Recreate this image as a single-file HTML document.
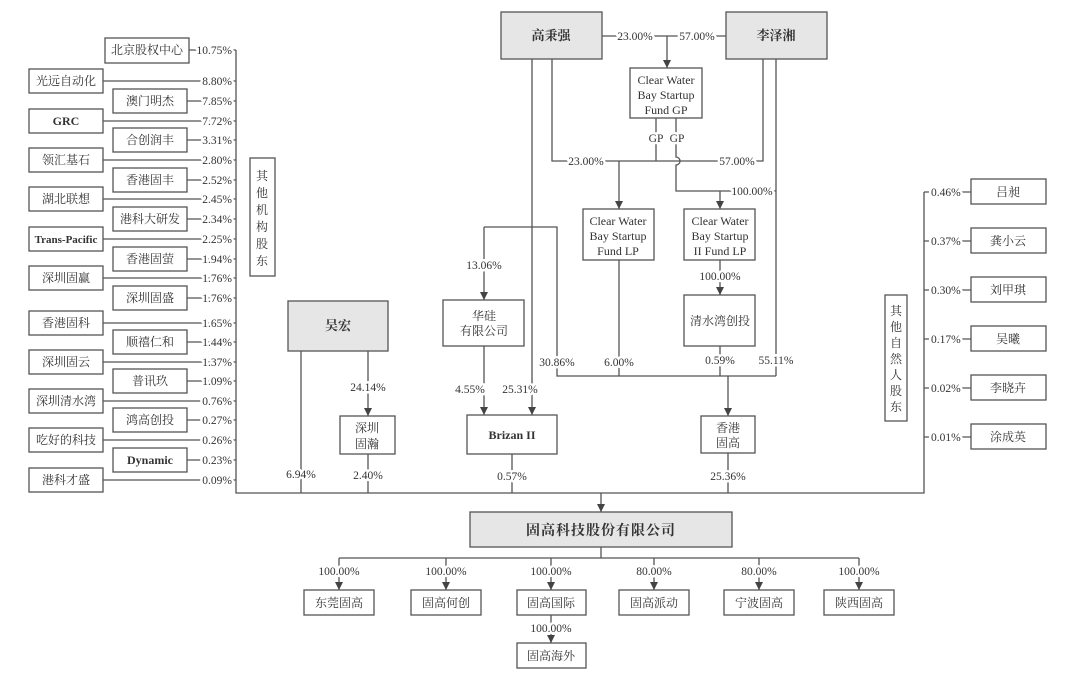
<!DOCTYPE html>
<html><head><meta charset="utf-8"><style>
html,body{margin:0;padding:0;background:#fff;}
svg{display:block;}
text{font-family:"Liberation Serif","Noto Serif CJK SC",serif;fill:#333;}
.p{font-size:11.5px;paint-order:stroke;stroke:#fff;stroke-width:5px;stroke-linejoin:round;}
.n{font-size:12px;}
.b{font-weight:bold;}
</style></head><body>
<svg width="1080" height="691" viewBox="0 0 1080 691" xmlns="http://www.w3.org/2000/svg">
<defs><marker id="a" markerWidth="9" markerHeight="8" refX="8" refY="4" orient="auto" markerUnits="userSpaceOnUse"><path d="M0,0 L8,4 L0,8 Z" fill="#444"/></marker></defs>
<g stroke="#555" stroke-width="1.3" fill="none">
<path d="M236,50 V493 H924 V192"/>
<path d="M189,50 H236 M103,81 H236 M187,101 H236 M103,121 H236 M187,140 H236 M103,160 H236 M187,180 H236 M103,199 H236 M187,219 H236 M103,239 H236 M187,259 H236 M103,278 H236 M187,298 H236 M103,323 H236 M187,342 H236 M103,362 H236 M187,381 H236 M103,401 H236 M187,420 H236 M103,440 H236 M187,460 H236 M103,480 H236"/>
<path d="M924,192 H971 M924,241 H971 M924,290 H971 M924,339 H971 M924,388 H971 M924,437 H971"/>
<path d="M602,36 H726"/>
<path d="M667,36 V68" marker-end="url(#a)"/>
<path d="M552,59 V161 H763 V59"/>
<path d="M656,118 V161"/>
<path d="M676,118 V157 A4,4 0 0 1 676,165 V191 H776"/>
<path d="M619,161 V209" marker-end="url(#a)"/>
<path d="M720,191 V209" marker-end="url(#a)"/>
<path d="M776,59 V376"/>
<path d="M532,59 V415" marker-end="url(#a)"/>
<path d="M484,227 H557 V376 H776"/>
<path d="M484,227 V300" marker-end="url(#a)"/>
<path d="M619,260 V376"/>
<path d="M720,260 V295" marker-end="url(#a)"/>
<path d="M720,346 V376"/>
<path d="M728,376 V416" marker-end="url(#a)"/>
<path d="M484,346 V415" marker-end="url(#a)"/>
<path d="M301,351 V493"/>
<path d="M368,351 V416" marker-end="url(#a)"/>
<path d="M368,454 V493"/>
<path d="M512,454 V493"/>
<path d="M728,453 V493"/>
<path d="M601,493 V512" marker-end="url(#a)"/>
<path d="M601,547 V558 M339,558 H859"/>
<path d="M339,558 V590" marker-end="url(#a)"/>
<path d="M446,558 V590" marker-end="url(#a)"/>
<path d="M551,558 V590" marker-end="url(#a)"/>
<path d="M654,558 V590" marker-end="url(#a)"/>
<path d="M759,558 V590" marker-end="url(#a)"/>
<path d="M859,558 V590" marker-end="url(#a)"/>
<path d="M551,615 V643" marker-end="url(#a)"/>
</g>
<g stroke="#555" stroke-width="1.3" fill="#fff">
<rect x="105" y="38" width="84" height="25"/>
<rect x="29" y="69" width="74" height="24"/><rect x="113" y="89" width="74" height="24"/>
<rect x="29" y="109" width="74" height="24"/><rect x="113" y="128" width="74" height="24"/>
<rect x="29" y="148" width="74" height="24"/><rect x="113" y="168" width="74" height="24"/>
<rect x="29" y="187" width="74" height="24"/><rect x="113" y="207" width="74" height="24"/>
<rect x="29" y="227" width="74" height="24"/><rect x="113" y="247" width="74" height="24"/>
<rect x="29" y="266" width="74" height="24"/><rect x="113" y="286" width="74" height="24"/>
<rect x="29" y="311" width="74" height="24"/><rect x="113" y="330" width="74" height="24"/>
<rect x="29" y="350" width="74" height="24"/><rect x="113" y="369" width="74" height="24"/>
<rect x="29" y="389" width="74" height="24"/><rect x="113" y="408" width="74" height="24"/>
<rect x="29" y="428" width="74" height="24"/><rect x="113" y="448" width="74" height="24"/>
<rect x="29" y="468" width="74" height="24"/>
<rect x="250" y="158" width="25" height="118"/>
<rect x="885" y="295" width="22" height="126"/>
<rect x="971" y="179" width="75" height="25"/><rect x="971" y="228" width="75" height="25"/>
<rect x="971" y="277" width="75" height="25"/><rect x="971" y="326" width="75" height="25"/>
<rect x="971" y="375" width="75" height="25"/><rect x="971" y="424" width="75" height="25"/>
<rect x="501" y="12" width="101" height="47" fill="#e6e6e6"/>
<rect x="726" y="12" width="101" height="47" fill="#e6e6e6"/>
<rect x="288" y="301" width="100" height="50" fill="#e6e6e6"/>
<rect x="630" y="68" width="72" height="50"/>
<rect x="583" y="209" width="71" height="51"/>
<rect x="684" y="209" width="71" height="51"/>
<rect x="684" y="295" width="71" height="51"/>
<rect x="443" y="300" width="81" height="46"/>
<rect x="340" y="416" width="55" height="38"/>
<rect x="467" y="415" width="90" height="39"/>
<rect x="701" y="416" width="54" height="37"/>
<rect x="470" y="512" width="262" height="35" fill="#e6e6e6"/>
<rect x="304" y="590" width="70" height="25"/><rect x="411" y="590" width="70" height="25"/>
<rect x="517" y="590" width="69" height="25"/><rect x="619" y="590" width="70" height="25"/>
<rect x="724" y="590" width="70" height="25"/><rect x="824" y="590" width="70" height="25"/>
<rect x="517" y="643" width="69" height="25"/>
</g>
<g class="n" text-anchor="middle">
<text x="147" y="54">北京股权中心</text>
<text x="66" y="85">光远自动化</text><text x="150" y="105">澳门明杰</text>
<text x="66" y="125" class="b">GRC</text><text x="150" y="144">合创润丰</text>
<text x="66" y="164">领汇基石</text><text x="150" y="184">香港固丰</text>
<text x="66" y="203">湖北联想</text><text x="150" y="223">港科大研发</text>
<text x="66" y="243" class="b" style="font-size:11px">Trans-Pacific</text><text x="150" y="263">香港固萤</text>
<text x="66" y="282">深圳固赢</text><text x="150" y="302">深圳固盛</text>
<text x="66" y="327">香港固科</text><text x="150" y="346">顺禧仁和</text>
<text x="66" y="366">深圳固云</text><text x="150" y="385">普讯玖</text>
<text x="66" y="405">深圳清水湾</text><text x="150" y="424">鸿高创投</text>
<text x="66" y="444">吃好的科技</text><text x="150" y="464" class="b">Dynamic</text>
<text x="66" y="484">港科才盛</text>
<text x="1008" y="196">吕昶</text><text x="1008" y="245">龚小云</text>
<text x="1008" y="294">刘甲琪</text><text x="1008" y="343">吴曦</text>
<text x="1008" y="392">李晓卉</text><text x="1008" y="441">涂成英</text>
<text x="551" y="40" class="b" style="font-size:13px">高秉强</text>
<text x="776" y="40" class="b" style="font-size:13px">李泽湘</text>
<text x="338" y="330" class="b" style="font-size:13px">吴宏</text>
<text x="666" y="84">Clear Water</text><text x="666" y="99">Bay Startup</text><text x="666" y="114">Fund GP</text>
<text x="618" y="225">Clear Water</text><text x="618" y="240">Bay Startup</text><text x="618" y="255">Fund LP</text>
<text x="720" y="225">Clear Water</text><text x="720" y="240">Bay Startup</text><text x="720" y="255">II Fund LP</text>
<text x="720" y="325">清水湾创投</text>
<text x="484" y="320">华硅</text><text x="484" y="335">有限公司</text>
<text x="367" y="432">深圳</text><text x="367" y="448">固瀚</text>
<text x="512" y="439" class="b">Brizan II</text>
<text x="728" y="432">香港</text><text x="728" y="447">固高</text>
<text x="601" y="535" class="b" style="font-size:14px;letter-spacing:1px">固高科技股份有限公司</text>
<text x="339" y="607">东莞固高</text><text x="446" y="607">固高何创</text>
<text x="551" y="607">固高国际</text><text x="654" y="607">固高派动</text>
<text x="759" y="607">宁波固高</text><text x="859" y="607">陕西固高</text>
<text x="551" y="660">固高海外</text>
</g>
<g class="n" text-anchor="middle">
<text x="262" y="180">其</text><text x="262" y="197">他</text><text x="262" y="214">机</text><text x="262" y="231">构</text><text x="262" y="248">股</text><text x="262" y="265">东</text>
<text x="896" y="315">其</text><text x="896" y="331">他</text><text x="896" y="347">自</text><text x="896" y="363">然</text><text x="896" y="379">人</text><text x="896" y="395">股</text><text x="896" y="411">东</text>
</g>
<g class="p" text-anchor="end">
<text x="232" y="54">10.75%</text><text x="232" y="85">8.80%</text><text x="232" y="105">7.85%</text>
<text x="232" y="125">7.72%</text><text x="232" y="144">3.31%</text><text x="232" y="164">2.80%</text>
<text x="232" y="184">2.52%</text><text x="232" y="203">2.45%</text><text x="232" y="223">2.34%</text>
<text x="232" y="243">2.25%</text><text x="232" y="263">1.94%</text><text x="232" y="282">1.76%</text>
<text x="232" y="302">1.76%</text><text x="232" y="327">1.65%</text><text x="232" y="346">1.44%</text>
<text x="232" y="366">1.37%</text><text x="232" y="385">1.09%</text><text x="232" y="405">0.76%</text>
<text x="232" y="424">0.27%</text><text x="232" y="444">0.26%</text><text x="232" y="464">0.23%</text>
<text x="232" y="484">0.09%</text>
</g>
<g class="p" text-anchor="start">
<text x="931" y="196">0.46%</text><text x="931" y="245">0.37%</text><text x="931" y="294">0.30%</text>
<text x="931" y="343">0.17%</text><text x="931" y="392">0.02%</text><text x="931" y="441">0.01%</text>
</g>
<g class="p" text-anchor="middle">
<text x="635" y="40">23.00%</text><text x="697" y="40">57.00%</text>
<text x="656" y="142">GP</text><text x="677" y="142">GP</text>
<text x="586" y="165">23.00%</text><text x="737" y="165">57.00%</text>
<text x="752" y="195">100.00%</text>
<text x="720" y="280">100.00%</text>
<text x="484" y="269">13.06%</text>
<text x="557" y="366">30.86%</text><text x="619" y="366">6.00%</text>
<text x="720" y="364">0.59%</text><text x="776" y="364">55.11%</text>
<text x="368" y="391">24.14%</text>
<text x="470" y="393">4.55%</text><text x="520" y="393">25.31%</text>
<text x="301" y="478">6.94%</text><text x="368" y="479">2.40%</text>
<text x="512" y="480">0.57%</text><text x="728" y="480">25.36%</text>
<text x="339" y="575">100.00%</text><text x="446" y="575">100.00%</text><text x="551" y="575">100.00%</text>
<text x="654" y="575">80.00%</text><text x="759" y="575">80.00%</text><text x="859" y="575">100.00%</text>
<text x="551" y="632">100.00%</text>
</g>
</svg>
</body></html>
